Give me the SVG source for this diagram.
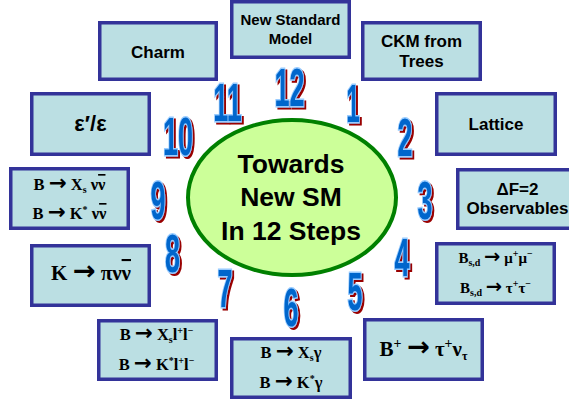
<svg xmlns="http://www.w3.org/2000/svg" width="569" height="403" viewBox="0 0 569 403">
<style>
.box{fill:#bbdfe3;stroke:#333399;stroke-width:3.5}
.t{font-family:"Liberation Sans",Arial,sans-serif;font-weight:bold;font-size:17px;fill:#000;text-anchor:middle}
.f{font-family:"Liberation Serif","Times New Roman",serif;font-weight:bold;font-size:16.5px;fill:#000;text-anchor:middle}
.sub{font-size:10px}
.ar{font-family:"DejaVu Sans",sans-serif;font-weight:bold;font-size:1.3em}
.ob{text-decoration:overline}
.n{font-family:"Liberation Sans",Arial,sans-serif;font-weight:bold;font-size:54px;text-anchor:middle;fill:#0066cc;stroke:#99ccff;stroke-width:3;paint-order:stroke;filter:url(#sh)}
</style>
<defs>
<filter id="sh" x="-20%" y="-20%" width="160%" height="160%">
<feFlood flood-color="#990000" result="c"/>
<feComposite in="c" in2="SourceAlpha" operator="in" result="s"/>
<feOffset in="s" dx="4" dy="2" result="o"/>
<feMerge><feMergeNode in="o"/><feMergeNode in="SourceGraphic"/></feMerge>
</filter>
</defs>

<g id="center">
<ellipse cx="292" cy="197.5" rx="104" ry="77.5" fill="#ccff99" stroke="#008000" stroke-width="4"/>
<text class="t" style="font-size:26.5px" x="291" y="173">Towards</text>
<text class="t" style="font-size:26.5px" x="291" y="206">New SM</text>
<text class="t" style="font-size:26.5px" x="291" y="240">In 12 Steps</text>
</g>

<g id="step12">
<rect class="box" x="231.75" y="1.75" width="117.5" height="55.5"/>
<text class="t" style="font-size:15px" x="290.5" y="25">New Standard</text>
<text class="t" style="font-size:15px" x="290.5" y="44">Model</text>
</g>

<g id="step11">
<rect class="box" x="99.75" y="22.75" width="116.5" height="56.5"/>
<text class="t" x="158" y="57.5">Charm</text>
</g>

<g id="step1">
<rect class="box" x="362.75" y="22.75" width="117.5" height="56.5"/>
<text class="t" x="421.5" y="46.5">CKM from</text>
<text class="t" x="421.5" y="66.5">Trees</text>
</g>

<g id="step2">
<rect class="box" x="436.75" y="93.75" width="118.5" height="60.5"/>
<text class="t" x="496" y="130">Lattice</text>
</g>

<g id="step3">
<rect class="box" x="457.75" y="169.75" width="120" height="58.5"/>
<text class="t" x="517.5" y="195">ΔF=2</text>
<text class="t" x="517.5" y="214">Observables</text>
</g>

<g id="step4">
<rect class="box" x="436.75" y="243.75" width="117.5" height="59.5"/>
<text class="f" style="font-size:15px" x="495.5" y="263">B<tspan class="sub" dy="3">s,d</tspan><tspan dy="-3"> </tspan><tspan class="ar">→</tspan> μ<tspan class="sub" dy="-6">+</tspan><tspan dy="6">μ</tspan><tspan class="sub" dy="-6">−</tspan></text>
<text class="f" style="font-size:15px" x="495.5" y="293">B<tspan class="sub" dy="3">s,d</tspan><tspan dy="-3"> </tspan><tspan class="ar">→</tspan> τ<tspan class="sub" dy="-6">+</tspan><tspan dy="6">τ</tspan><tspan class="sub" dy="-6">−</tspan></text>
</g>

<g id="step5">
<rect class="box" x="364.75" y="319.75" width="117.5" height="59.5"/>
<text class="f" style="font-size:21px" x="423.5" y="356">B<tspan class="sub" style="font-size:14px" dy="-8">+</tspan><tspan dy="8"> </tspan><tspan class="ar">→</tspan> τ<tspan class="sub" style="font-size:14px" dy="-8">+</tspan><tspan dy="8">ν</tspan><tspan class="sub" style="font-size:12px" dy="4">τ</tspan></text>
</g>

<g id="step6">
<rect class="box" x="231.75" y="338.75" width="118.5" height="58.5"/>
<text class="f" x="291" y="358">B <tspan class="ar">→</tspan> X<tspan class="sub" dy="3">s</tspan><tspan dy="-3">γ</tspan></text>
<text class="f" x="291" y="388">B <tspan class="ar">→</tspan> K<tspan class="sub" dy="-6">*</tspan><tspan dy="6">γ</tspan></text>
</g>

<g id="step7">
<rect class="box" x="98.75" y="320.75" width="117.5" height="58.5"/>
<text class="f" x="156.5" y="340">B <tspan class="ar">→</tspan> X<tspan class="sub" dy="3">s</tspan><tspan dy="-3">l</tspan><tspan class="sub" dy="-6">+</tspan><tspan dy="6">l</tspan><tspan class="sub" dy="-6">−</tspan></text>
<text class="f" x="156.5" y="370">B <tspan class="ar">→</tspan> K<tspan class="sub" dy="-6">*</tspan><tspan dy="6">l</tspan><tspan class="sub" dy="-6">+</tspan><tspan dy="6">l</tspan><tspan class="sub" dy="-6">−</tspan></text>
</g>

<g id="step8">
<rect class="box" x="31.75" y="245.75" width="117.5" height="59.5"/>
<text class="f" style="font-size:21px" x="91" y="280">K <tspan class="ar">→</tspan> πν<tspan class="ob">ν</tspan></text>
</g>

<g id="step9">
<rect class="box" x="10.75" y="168.75" width="117.5" height="59.5"/>
<text class="f" x="69.5" y="190">B <tspan class="ar">→</tspan> X<tspan class="sub" dy="3">s</tspan><tspan dy="-3"> ν</tspan><tspan class="ob">ν</tspan></text>
<text class="f" x="69.5" y="219">B <tspan class="ar">→</tspan> K<tspan class="sub" dy="-6">*</tspan><tspan dy="6"> ν</tspan><tspan class="ob">ν</tspan></text>
</g>

<g id="step10">
<rect class="box" x="31.75" y="93.75" width="117.5" height="60.5"/>
<text class="t" style="font-size:22px" x="90.5" y="131">ε′/ε</text>
</g>

<g id="numbers">
<text class="n" transform="translate(353,122) scale(0.45,1)">1</text>
<text class="n" transform="translate(405,156) scale(0.5,1)">2</text>
<text class="n" transform="translate(425,219) scale(0.5,1)">3</text>
<text class="n" transform="translate(402,276) scale(0.5,1)">4</text>
<text class="n" transform="translate(355,310) scale(0.5,1)">5</text>
<text class="n" transform="translate(291,326) scale(0.5,1)">6</text>
<text class="n" transform="translate(225,307) scale(0.5,1)">7</text>
<text class="n" transform="translate(172.5,272) scale(0.5,1)">8</text>
<text class="n" transform="translate(158,219) scale(0.5,1)">9</text>
<text class="n" transform="translate(178,155) scale(0.5,1)">10</text>
<text class="n" transform="translate(227.5,121) scale(0.5,1)">11</text>
<text class="n" transform="translate(289.5,106) scale(0.5,1)">12</text>
</g>
</svg>
